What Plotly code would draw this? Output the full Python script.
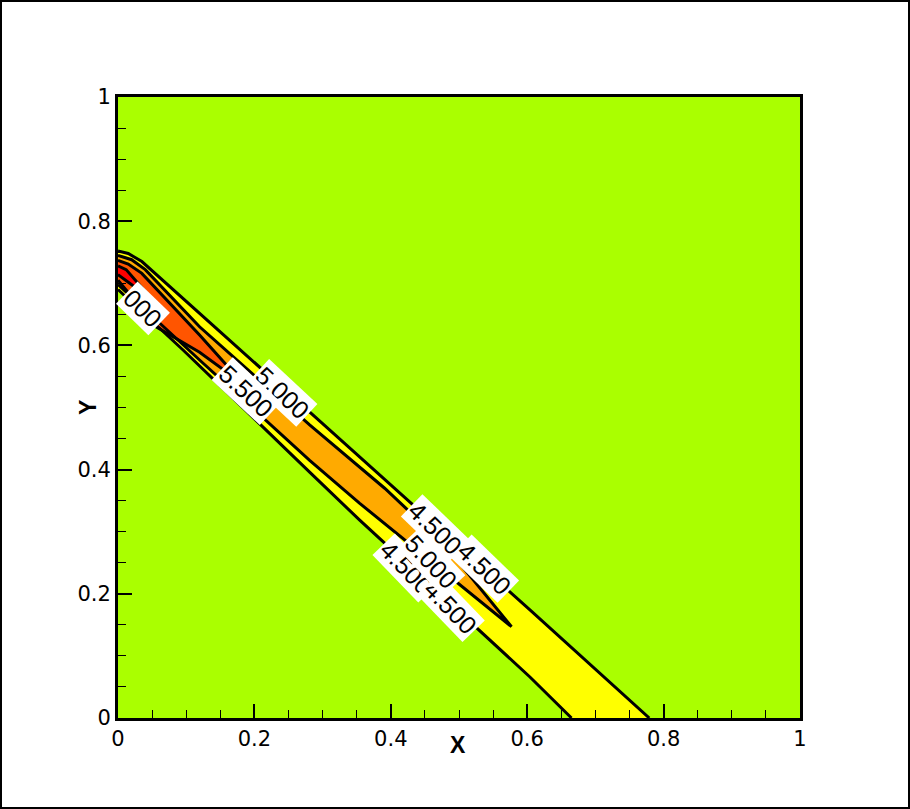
import plotly.graph_objects as go

# ---- contour line data (data coordinates) ----
c45_upper_x = [0.0, 0.015, 0.035, 0.134, 0.30, 0.604, 0.779]
c45_upper_y = [0.752, 0.748, 0.735, 0.637, 0.474, 0.174, 0.0]
c45_lower_x = [0.0, 0.061, 0.095, 0.281, 0.354, 0.604, 0.665]
c45_lower_y = [0.690, 0.627, 0.593, 0.396, 0.319, 0.066, 0.0]

c50_x = [0.0, 0.02, 0.04, 0.1196, 0.281, 0.391, 0.478, 0.577, 0.354, 0.281, 0.1196, 0.0]
c50_y = [0.745, 0.738, 0.722, 0.630, 0.472, 0.370, 0.280, 0.147, 0.346, 0.415, 0.5765, 0.698]

c55_x = [0.0, 0.015, 0.035, 0.1196, 0.1856, 0.1196, 0.0565, 0.0]
c55_y = [0.737, 0.731, 0.716, 0.6167, 0.536, 0.589, 0.6296, 0.705]

c60_x = [0.0, 0.012, 0.0506, 0.0]
c60_y = [0.728, 0.722, 0.673, 0.714]

level_colors = {"bg": "#AAFF00", "4.5": "#FFFF00", "5.0": "#FFAA00", "5.5": "#FF5500", "6.0": "#FF0000"}

# contour labels: text, x, y, angle (drawn in this order; later ones cover earlier ones)
label_text = ["000", "5.000", "5.500", "4.500", "4.500", "5.000", "4.500", "4.500"]
label_x = [0.036, 0.2415, 0.188, 0.423, 0.487, 0.460, 0.465, 0.538]
label_y = [0.660, 0.523, 0.527, 0.2415, 0.178, 0.2515, 0.306, 0.240]
label_angle = [44, 43, 43, 46, 46, 47, 44, 44]

tick_vals = [0, 0.2, 0.4, 0.6, 0.8, 1]
tick_text = ["0", "0.2", "0.4", "0.6", "0.8", "1"]

fig = go.Figure()

def add_fill(xs, ys, color):
    fig.add_trace(go.Scatter(x=xs, y=ys, mode="lines", fill="toself", fillcolor=color,
                             line=dict(width=0, color=color), hoverinfo="skip", showlegend=False))

def add_line(xs, ys):
    fig.add_trace(go.Scatter(x=xs, y=ys, mode="lines", line=dict(color="black", width=3),
                             hoverinfo="skip", showlegend=False))

add_fill(c45_upper_x + c45_lower_x[::-1], c45_upper_y + c45_lower_y[::-1], level_colors["4.5"])
add_fill(c50_x, c50_y, level_colors["5.0"])
add_fill(c55_x, c55_y, level_colors["5.5"])
add_fill(c60_x, c60_y, level_colors["6.0"])

add_line(c45_upper_x, c45_upper_y)
add_line(c45_lower_x, c45_lower_y)
add_line(c50_x, c50_y)
add_line(c55_x, c55_y)
add_line(c60_x, c60_y)

font_family = "Liberation Sans, Arial, Helvetica, sans-serif"
tick_family = "DejaVu Sans, Liberation Sans, Arial, sans-serif"

annotations = []
for t, x, y, a in zip(label_text, label_x, label_y, label_angle):
    annotations.append(dict(x=x, y=y, xref="x", yref="y", text=t, showarrow=False,
                            xanchor="center", yanchor="middle",
                            textangle=a, bgcolor="white", borderpad=1,
                            font=dict(family=font_family, size=25, color="black")))

W, H = 910, 809
ml, mr, mt, mb = 118, 110, 97, 91
pw, ph = W - ml - mr, H - mt - mb

annotations.append(dict(x=(458 - ml) / pw, y=(718 - 745) / ph, xref="paper", yref="paper", text="<b>X</b>",
                        xanchor="center", yanchor="middle",
                        showarrow=False, font=dict(family=font_family, size=23, color="black")))
annotations.append(dict(x=(88 - ml) / pw, y=(718 - 408) / ph, xref="paper", yref="paper", text="<b>Y</b>",
                        xanchor="center", yanchor="middle",
                        showarrow=False, textangle=-90, font=dict(family=font_family, size=23, color="black")))

axis_common = dict(range=[0, 1], tickvals=tick_vals, ticktext=tick_text, ticks="inside", ticklen=14,
                   tickwidth=2, tickcolor="black", showgrid=False, zeroline=False, showline=True,
                   linecolor="black", linewidth=3, mirror=True,
                   tickfont=dict(family=tick_family, size=21, color="black"),
                   minor=dict(ticks="inside", ticklen=8, tickwidth=1, tickcolor="black", dtick=0.05,
                              showgrid=False))

fig.update_layout(
    width=W, height=H,
    margin=dict(l=ml, r=mr, t=mt, b=mb),
    paper_bgcolor="white", plot_bgcolor=level_colors["bg"],
    xaxis=dict(**axis_common, ticklabelstandoff=0),
    yaxis=dict(**axis_common, ticklabelstandoff=0),
    annotations=annotations,
    shapes=[dict(type="rect", xref="paper", yref="paper",
                 x0=(-ml + 1) / pw, x1=1 + (mr - 1) / pw, y0=(-mb + 1) / ph, y1=1 + (mt - 1) / ph,
                 line=dict(color="black", width=2), layer="above")],
    showlegend=False,
)

fig.write_html("out.html", config={"displayModeBar": False},
               post_script="document.body.style.margin='0';document.body.style.overflow='hidden';")
